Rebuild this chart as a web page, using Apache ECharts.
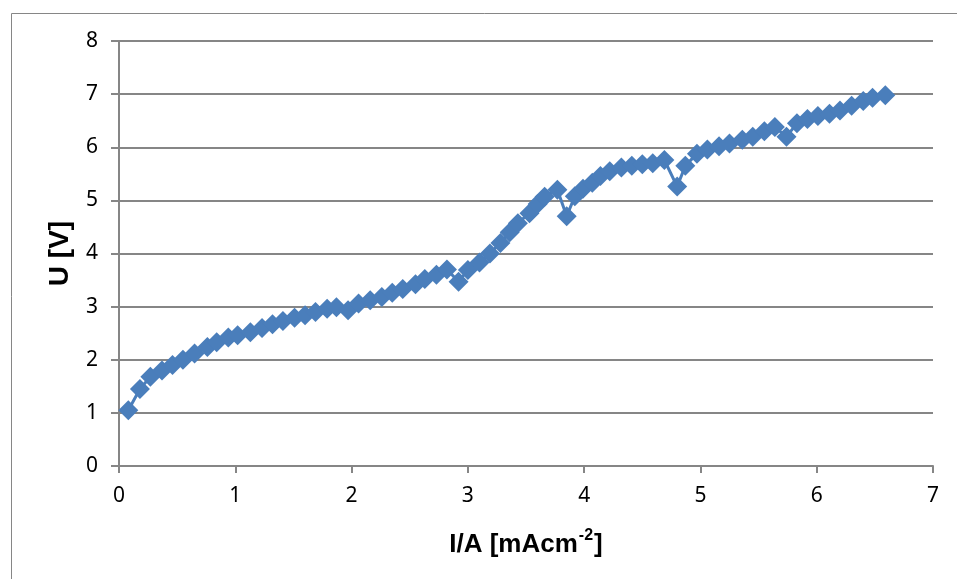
<!DOCTYPE html>
<html>
<head>
<meta charset="utf-8">
<script src="https://cdn.jsdelivr.net/npm/echarts@6/dist/echarts.min.js"></script>
<style>html,body{margin:0;padding:0;background:#fff;}#c{width:957px;height:579px;}</style>
</head>
<body>
<div id="c"></div>
<script>
const xValues = [0.08,0.18,0.27,0.37,0.46,0.55,0.65,0.76,0.84,0.94,1.02,1.13,1.23,1.32,1.41,1.51,1.60,1.69,1.79,1.87,1.97,2.06,2.16,2.26,2.35,2.44,2.55,2.63,2.73,2.82,2.92,3.00,3.10,3.19,3.28,3.36,3.43,3.53,3.60,3.66,3.77,3.85,3.92,3.99,4.07,4.14,4.22,4.32,4.41,4.50,4.59,4.69,4.80,4.87,4.97,5.06,5.16,5.25,5.36,5.45,5.55,5.64,5.74,5.83,5.92,6.01,6.11,6.20,6.30,6.40,6.48,6.59];
const yValues = [1.05,1.45,1.68,1.80,1.90,2.00,2.12,2.24,2.33,2.42,2.46,2.52,2.60,2.67,2.73,2.79,2.84,2.90,2.96,2.99,2.93,3.06,3.12,3.18,3.26,3.33,3.42,3.52,3.60,3.70,3.47,3.69,3.83,4.00,4.20,4.40,4.57,4.76,4.93,5.07,5.20,4.70,5.08,5.22,5.33,5.46,5.55,5.62,5.65,5.68,5.70,5.76,5.26,5.65,5.88,5.96,6.02,6.07,6.14,6.20,6.30,6.38,6.20,6.45,6.53,6.59,6.63,6.69,6.78,6.87,6.93,6.98];
const xTicks = [0,1,2,3,4,5,6,7];
const yTicks = [0,1,2,3,4,5,6,7,8];

const data = xValues.map((x, i) => [x, yValues[i]]);
const chart = echarts.init(document.getElementById('c'), null, {renderer: 'canvas'});
const gridColor = '#868686';
const labelFont = {fontFamily: 'Noto Sans, Liberation Sans, sans-serif', fontSize: 21, color: '#000'};
chart.setOption({
  animation: false,
  backgroundColor: '#fff',
  graphic: [{
    type: 'rect', left: 9, top: 11, shape: {width: 960, height: 580},
    style: {fill: 'none', stroke: gridColor, lineWidth: 1}, silent: true, z: -1
  }],
  grid: {left: 119, top: 41, right: 24, bottom: 113},
  xAxis: {
    type: 'value', min: xTicks[0], max: xTicks[xTicks.length - 1], interval: 1,
    name: '{a|I/A [mAcm}{b|-2}{a|]}',
    nameLocation: 'middle', nameGap: 62,
    nameTextStyle: {
      rich: {
        a: {fontFamily: 'Liberation Sans, Arial, sans-serif', fontWeight: 'bold', fontSize: 26, color: '#000', lineHeight: 30, verticalAlign: 'bottom'},
        b: {fontFamily: 'Liberation Sans, Arial, sans-serif', fontWeight: 'bold', fontSize: 16, color: '#000', lineHeight: 30, verticalAlign: 'top', padding: [0, 1, 0, 1]}
      }
    },
    axisLine: {show: true, lineStyle: {color: gridColor, width: 2}},
    axisTick: {show: true, inside: false, length: 7, lineStyle: {color: gridColor, width: 2}},
    axisLabel: Object.assign({margin: 20}, labelFont),
    splitLine: {show: false}
  },
  yAxis: {
    type: 'value', min: yTicks[0], max: yTicks[yTicks.length - 1], interval: 1,
    name: 'U [V]', nameLocation: 'middle', nameGap: 45, nameRotate: 90,
    nameTextStyle: {fontFamily: 'Liberation Sans, Arial, sans-serif', fontWeight: 'bold', fontSize: 28, color: '#000'},
    axisLine: {show: true, lineStyle: {color: gridColor, width: 2}},
    axisTick: {show: true, inside: false, length: 8, lineStyle: {color: gridColor, width: 2}},
    axisLabel: Object.assign({margin: 21}, labelFont),
    splitLine: {show: true, lineStyle: {color: gridColor, width: 2}}
  },
  series: [{
    type: 'line', data: data,
    symbol: 'diamond', symbolSize: 20,
    lineStyle: {color: '#4a7ebb', width: 3},
    itemStyle: {color: '#4a7ebb'},
    z: 5
  }]
});
</script>
</body>
</html>
